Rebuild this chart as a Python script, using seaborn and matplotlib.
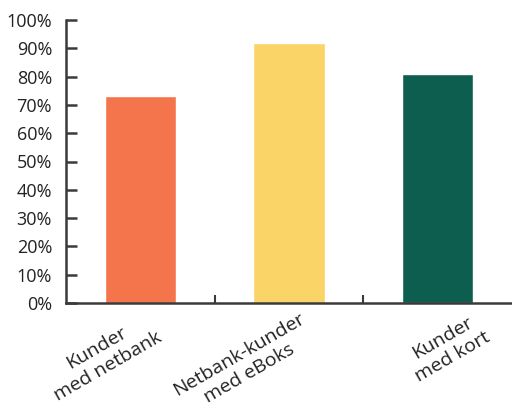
import matplotlib
matplotlib.use("Agg")
import matplotlib.pyplot as plt
import matplotlib.transforms as mtransforms
import seaborn as sns
import pandas as pd

categories = ["Kunder\nmed netbank", "Netbank-kunder\nmed eBoks", "Kunder\nmed kort"]
values = [73, 92, 81]
colors = ["#F4754C", "#FBD468", "#0E5E50"]
yticks = [0, 10, 20, 30, 40, 50, 60, 70, 80, 90, 100]

sns.set_theme(style="white")
plt.rcParams["font.family"] = ["Open Sans", "DejaVu Sans"]

df = pd.DataFrame({"kategori": categories, "andel": values})

fig = plt.figure(figsize=(5.12, 4.08), dpi=100)
ax = fig.add_axes([66 / 512, 1 - 303 / 408, 1 - 66 / 512, 283 / 408])

sns.barplot(data=df, x="kategori", y="andel", hue="kategori", palette=colors,
            width=0.48, saturation=1, legend=False, ax=ax)

axis_color = "#3a3a3a"
ax.set_xlim(-0.5, 2.5)
ax.set_ylim(0, 100)
ax.set_yticks(yticks)
ax.set_yticklabels([f"{v}%" for v in yticks])
ax.set_xlabel("")
ax.set_ylabel("")

for side in ("top", "right"):
    ax.spines[side].set_visible(False)
for side in ("left", "bottom"):
    ax.spines[side].set_color(axis_color)
    ax.spines[side].set_linewidth(1.8)

ax.tick_params(axis="y", direction="in", length=8, width=1.8, color=axis_color,
               labelsize=13, labelcolor="#222222", pad=10, left=True)
ax.tick_params(axis="x", which="major", length=0, labelsize=14,
               labelcolor="#222222", pad=12)
ax.set_xticks([0.5, 1.5], minor=True)
ax.tick_params(axis="x", which="minor", direction="in", length=6, width=1.5,
               color=axis_color, bottom=True)

# rotated category labels with per-label nudges
nudges = [(-38, 10), (-45, 10), (10, 10)]
for lab, (dx, dy) in zip(ax.get_xticklabels(), nudges):
    lab.set_rotation(30)
    lab.set_multialignment("center")
    lab.set_linespacing(1.25)
    off = mtransforms.ScaledTranslation(dx / 100, dy / 100, fig.dpi_scale_trans)
    lab.set_transform(lab.get_transform() + off)

fig.savefig("out.png", dpi=100)
